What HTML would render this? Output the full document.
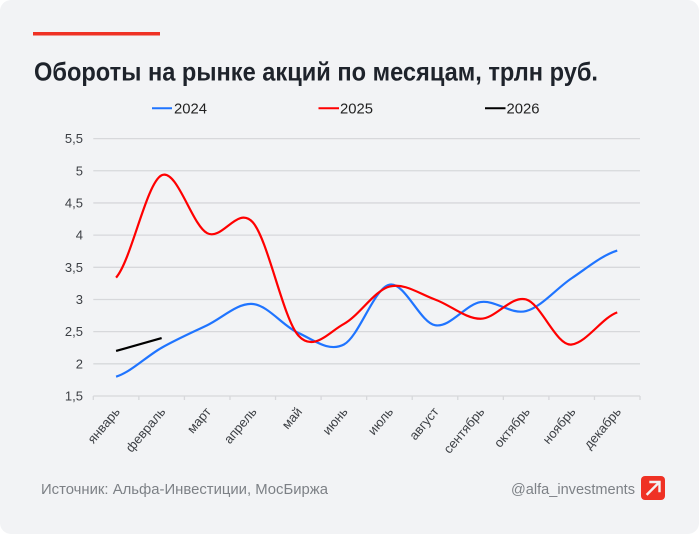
<!DOCTYPE html>
<html><head><meta charset="utf-8"><style>
html,body{margin:0;padding:0;background:#fff;}
svg{display:block;}
</style></head><body>
<svg width="700" height="535" viewBox="0 0 700 535" xmlns="http://www.w3.org/2000/svg" font-family="'Liberation Sans', sans-serif">
<rect x="0" y="0" width="699" height="534" rx="11" fill="#f2f3f5"/>
<rect x="33" y="32" width="127" height="3.5" fill="#ef3124"/>
<text x="34" y="80.5" font-size="26" font-weight="bold" fill="#1e232b" textLength="564" lengthAdjust="spacingAndGlyphs">Обороты на рынке акций по месяцам, трлн руб.</text>
<g font-size="14.5" fill="#222">
<line x1="152" y1="108.3" x2="172" y2="108.3" stroke="#1f74ff" stroke-width="2"/>
<text x="174" y="113.3" textLength="33" lengthAdjust="spacingAndGlyphs">2024</text>
<line x1="318.5" y1="108.3" x2="339" y2="108.3" stroke="#ff0000" stroke-width="2"/>
<text x="340" y="113.3" textLength="33" lengthAdjust="spacingAndGlyphs">2025</text>
<line x1="485" y1="108.3" x2="505.5" y2="108.3" stroke="#000" stroke-width="2"/>
<text x="506.5" y="113.3" textLength="33" lengthAdjust="spacingAndGlyphs">2026</text>
</g>
<g stroke="#d7d8db" stroke-width="1.3">
<line x1="93.3" y1="138.6" x2="640" y2="138.6"/>
<line x1="93.3" y1="170.78" x2="640" y2="170.78"/>
<line x1="93.3" y1="202.95" x2="640" y2="202.95"/>
<line x1="93.3" y1="235.13" x2="640" y2="235.13"/>
<line x1="93.3" y1="267.3" x2="640" y2="267.3"/>
<line x1="93.3" y1="299.48" x2="640" y2="299.48"/>
<line x1="93.3" y1="331.65" x2="640" y2="331.65"/>
<line x1="93.3" y1="363.83" x2="640" y2="363.83"/>
<line x1="93.3" y1="396" x2="640" y2="396"/>
<path d="M93.3 396V400M138.86 396V400M184.42 396V400M229.98 396V400M275.54 396V400M321.1 396V400M366.66 396V400M412.22 396V400M457.78 396V400M503.34 396V400M548.9 396V400M594.46 396V400M640.02 396V400" fill="none"/>
</g>
<g font-size="13" fill="#3c3f44" text-anchor="end">
<text x="83" y="143.1">5,5</text>
<text x="83" y="175.3">5</text>
<text x="83" y="207.5">4,5</text>
<text x="83" y="239.6">4</text>
<text x="83" y="271.8">3,5</text>
<text x="83" y="304">3</text>
<text x="83" y="336.2">2,5</text>
<text x="83" y="368.3">2</text>
<text x="83" y="400.5">1,5</text>
</g>
<g font-size="13" fill="#3c3f44" text-anchor="end">
<text transform="translate(120.6,412) rotate(-50)">январь</text>
<text transform="translate(166.1,412) rotate(-50)">февраль</text>
<text transform="translate(211.7,412) rotate(-50)">март</text>
<text transform="translate(257.3,412) rotate(-50)">апрель</text>
<text transform="translate(302.8,412) rotate(-50)">май</text>
<text transform="translate(348.4,412) rotate(-50)">июнь</text>
<text transform="translate(393.9,412) rotate(-50)">июль</text>
<text transform="translate(439.5,412) rotate(-50)">август</text>
<text transform="translate(485.1,412) rotate(-50)">сентябрь</text>
<text transform="translate(530.6,412) rotate(-50)">октябрь</text>
<text transform="translate(576.2,412) rotate(-50)">ноябрь</text>
<text transform="translate(621.7,412) rotate(-50)">декабрь</text>
</g>
<path fill="none" stroke="#1f74ff" stroke-width="2.2" stroke-linejoin="round" d="M116.08,376.70 C131.27,371.87 146.45,356.32 161.64,347.74 C176.83,339.16 192.01,332.50 207.20,325.21 C222.39,317.92 237.57,302.69 252.76,303.98 C267.95,305.27 283.13,326.18 298.32,332.94 C313.51,339.70 328.69,352.56 343.88,344.52 C359.07,336.48 374.25,287.90 389.44,284.68 C404.63,281.46 419.81,322.32 435.00,325.21 C450.19,328.10 465.37,304.41 480.56,302.05 C495.75,299.69 510.93,315.03 526.12,311.06 C541.31,307.09 556.49,288.32 571.68,278.24 C586.87,268.16 602.05,255.18 617.24,250.57"/>
<path fill="none" stroke="#ff0000" stroke-width="2.2" stroke-linejoin="round" d="M116.08,277.60 C131.27,260.55 146.45,182.67 161.64,175.27 C176.83,167.87 192.01,225.36 207.20,233.19 C222.39,241.02 237.57,205.21 252.76,222.26 C267.95,239.31 283.13,318.57 298.32,335.51 C313.51,352.46 328.69,332.08 343.88,323.93 C359.07,315.78 374.25,290.69 389.44,286.61 C404.63,282.54 419.81,294.12 435.00,299.48 C450.19,304.84 465.37,318.78 480.56,318.78 C495.75,318.78 510.93,295.19 526.12,299.48 C541.31,303.77 556.49,346.67 571.68,344.52 C586.87,342.38 602.05,317.71 617.24,312.35"/>
<line x1="116.08" y1="350.96" x2="161.64" y2="338.09" stroke="#000" stroke-width="2.2"/>
<text x="41" y="494" font-size="14.5" fill="#7d8186" textLength="287" lengthAdjust="spacingAndGlyphs">Источник: Альфа-Инвестиции, МосБиржа</text>
<text x="511" y="494" font-size="14.5" fill="#7d8186" textLength="124" lengthAdjust="spacingAndGlyphs">@alfa_investments</text>
<rect x="641" y="476" width="24" height="24" rx="4" fill="#ef3124"/>
<g fill="none" stroke="#f2f2f2" stroke-width="2.4" stroke-linecap="square">
<line x1="647.5" y1="494" x2="659" y2="482.5"/>
<polyline points="650.5,482 659.5,482 659.5,491"/>
</g>
</svg>
</body></html>
